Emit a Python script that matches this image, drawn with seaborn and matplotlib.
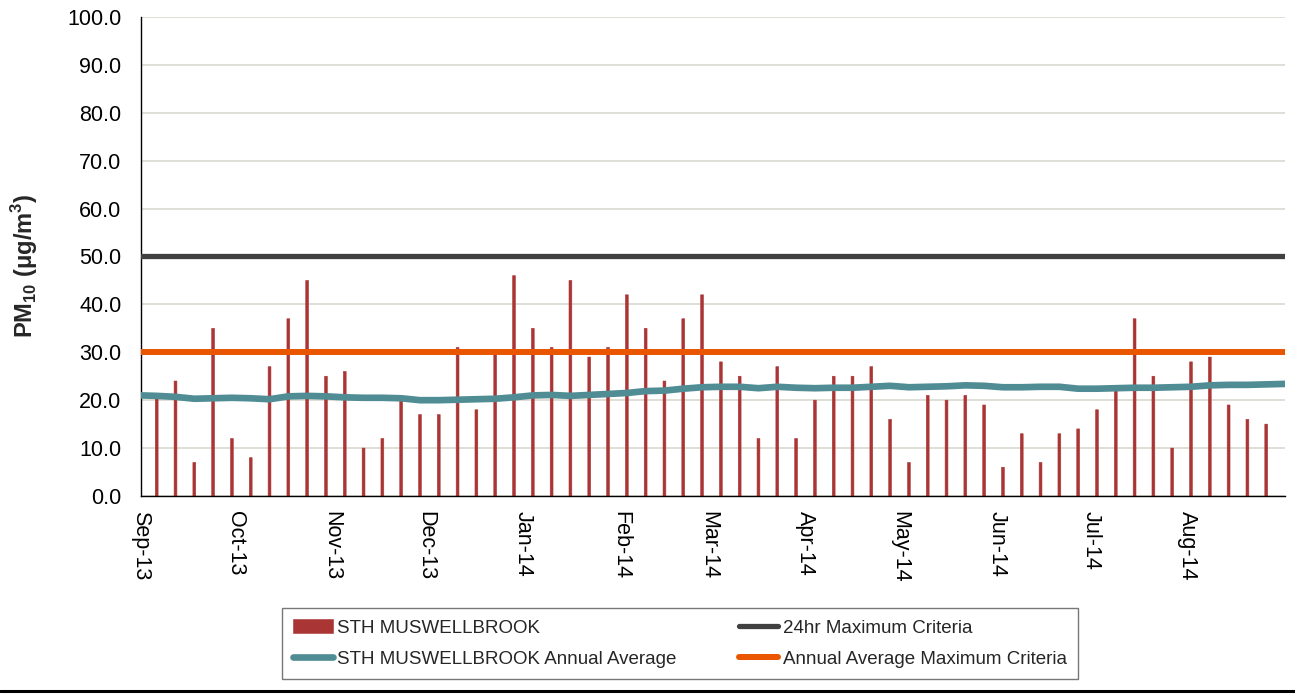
import pandas as pd
import numpy as np
import matplotlib
matplotlib.use("Agg")
import matplotlib.pyplot as plt
from matplotlib.lines import Line2D
import seaborn as sns

# PM10 24hr samples (one every 6 days)
pm10 = [21, 24, 7, 35, 12, 8, 27, 37, 45, 25,
        26, 10, 12, 21, 17, 17, 31, 18, 30, 46,
        35, 31, 45, 29, 31, 42, 35, 24, 37, 42,
        28, 25, 12, 27, 12, 20, 25, 25, 27, 16,
        7, 21, 20, 21, 19, 6, 13, 7, 13, 14,
        18, 22, 37, 25, 10, 28, 29, 19, 16, 15]
sample_dates = pd.date_range("2013-09-06", periods=len(pm10), freq="6D")

# rolling annual average (start of axis, each sample, end of axis)
annual_avg = [21.0,
              20.9, 20.7, 20.3, 20.4, 20.5, 20.4, 20.2, 20.8, 20.9, 20.8,
              20.6, 20.5, 20.5, 20.4, 20.0, 20.0, 20.1, 20.2, 20.3, 20.6,
              21.0, 21.1, 20.9, 21.1, 21.3, 21.5, 21.9, 22.0, 22.4, 22.7,
              22.8, 22.8, 22.5, 22.8, 22.6, 22.5, 22.6, 22.6, 22.8, 23.0,
              22.7, 22.8, 22.9, 23.1, 23.0, 22.7, 22.7, 22.8, 22.8, 22.4,
              22.4, 22.5, 22.6, 22.6, 22.7, 22.8, 23.1, 23.2, 23.2, 23.3,
              23.4]
avg_dates = ([pd.Timestamp("2013-09-01")] + list(sample_dates)
             + [pd.Timestamp("2014-09-01")])

criteria_24hr = 50.0
criteria_annual = 30.0

month_ticks = pd.date_range("2013-09-01", "2014-09-01", freq="MS")
month_labels = [d.strftime("%b-%y") for d in month_ticks[:-1]] + [""]

sns.set_style("white")
plt.rcParams["font.family"] = ["Liberation Sans", "DejaVu Sans"]
plt.rcParams["mathtext.fontset"] = "custom"
plt.rcParams["mathtext.bf"] = "Liberation Sans:bold"
plt.rcParams["mathtext.rm"] = "Liberation Sans:bold"

fig = plt.figure(figsize=(12.95, 6.97), dpi=100)
ax = fig.add_axes([0.1089, 0.2884, 0.8834, 0.6872])

bars = ax.bar(sample_dates, pm10, width=0.9, color="#AA3535",
              edgecolor="#AA3535", linewidth=0.4,
              label="STH MUSWELLBROOK", zorder=2)
for b in bars:
    b.set_snap(False)

avg_df = pd.DataFrame({"date": avg_dates, "avg": annual_avg})
sns.lineplot(data=avg_df, x="date", y="avg", ax=ax, color="#508C94",
             linewidth=4.8, label="STH MUSWELLBROOK Annual Average",
             solid_capstyle="round", zorder=4)

ax.axhline(criteria_24hr, color="#404040", linewidth=3.8,
           label="24hr Maximum Criteria", zorder=3)
ax.axhline(criteria_annual, color="#EA5500", linewidth=4.3,
           label="Annual Average Maximum Criteria", zorder=3)

ax.set_xlim(pd.Timestamp("2013-09-01"), pd.Timestamp("2014-09-01"))
ax.set_ylim(0, 100)
ax.set_yticks(np.arange(0, 101, 10))
ax.set_yticklabels([f"{v:.1f}" for v in np.arange(0, 101, 10)])
ax.set_xticks(month_ticks)
ax.set_xticklabels(month_labels, rotation=-90, ha="center", va="top")

ax.yaxis.grid(True, color="#D9D9CF", linewidth=1.2, zorder=0)
ax.xaxis.grid(False)
ax.set_axisbelow(True)

for side in ["top", "right"]:
    ax.spines[side].set_visible(False)
for side in ["left", "bottom"]:
    ax.spines[side].set_color("black")
    ax.spines[side].set_linewidth(1.0)

ax.tick_params(axis="both", direction="out", length=5, width=1,
               color="black", labelsize=15.5, labelcolor="black")
ax.tick_params(axis="y", pad=9)
ax.tick_params(axis="x", pad=6)

ax.set_xlabel("")
ax.set_ylabel(r"PM$_{10}$ ($\mathbf{\mu}$g/m$^{3}$)", fontsize=17,
              fontweight="bold")
ax.yaxis.set_label_coords(-0.088, 0.48)

handles, labels = ax.get_legend_handles_labels()
if ax.get_legend() is not None:
    ax.get_legend().remove()
order = ["STH MUSWELLBROOK", "STH MUSWELLBROOK Annual Average",
         "24hr Maximum Criteria", "Annual Average Maximum Criteria"]
lookup = dict(zip(labels, handles))
leg = fig.legend([lookup[k] for k in order], order, ncol=2,
                 loc="lower left", mode="expand",
                 bbox_to_anchor=(0.2178, 0.0258, 0.6146, 0.097),
                 fontsize=13.5, frameon=True, fancybox=False,
                 edgecolor="#555555", handlelength=2.1,
                 handletextpad=0.25, labelspacing=0.75,
                 borderpad=0.6, borderaxespad=0)
leg.get_frame().set_linewidth(1.0)

fig.add_artist(Line2D([0, 1], [0.0086, 0.0086], transform=fig.transFigure,
                      color="black", linewidth=2.2))

fig.savefig("out.png", dpi=100)
